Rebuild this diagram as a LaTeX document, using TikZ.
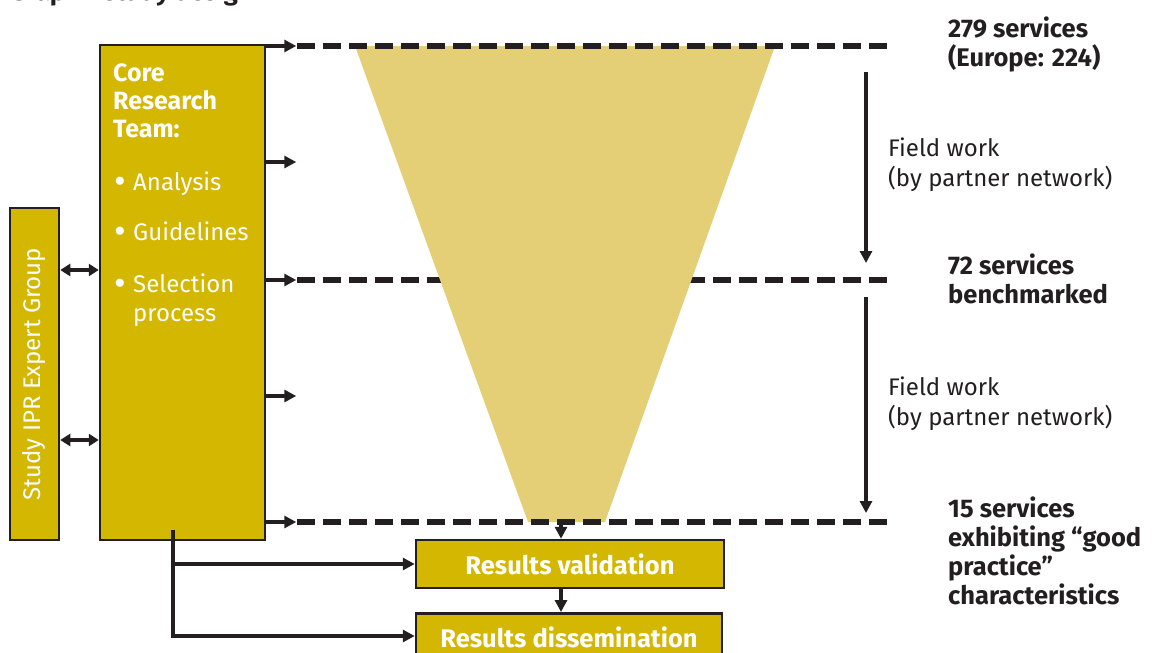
\documentclass[tikz,border=0pt]{standalone}
\usepackage{fontspec}
\setmainfont{Fira Sans}
\usetikzlibrary{arrows.meta}
\definecolor{mustard}{RGB}{212,183,0}
\definecolor{funnelc}{RGB}{229,207,118}
\definecolor{ink}{RGB}{35,31,32}
\tikzset{
  x=1pt, y=-1pt,
  box/.style={draw=ink, line width=2.5pt, fill=mustard, inner sep=0pt},
  arr/.style={draw=ink, line width=4.5pt, -{Triangle[length=12pt,width=12pt]}},
  dbl/.style={draw=ink, line width=4.5pt, {Triangle[length=10pt,width=12pt]}-{Triangle[length=10pt,width=12pt]}},
  level/.style={draw=ink, line width=6pt, dash pattern=on 18pt off 8pt},
  lbl/.style={anchor=base west, inner sep=0pt, align=left, text=ink,
    font=\fontsize{24}{29.5}\selectfont},
  blbl/.style={lbl, font=\fontsize{25.5}{29}\selectfont\bfseries},
  wtxt/.style={anchor=base west, inner sep=0pt, text=white,
    font=\fontsize{24}{29}\selectfont},
  wbold/.style={wtxt, align=left, font=\fontsize{25}{28}\selectfont\bfseries},
}
\newcommand{\bigbullet}{\raisebox{-3pt}{\scalebox{1.5}{•}}}
\begin{document}
\begin{tikzpicture}
\useasboundingbox (0,0) rectangle (1160,653);

% heading, running above the top edge
\node[blbl] (title) at (10,1) {Graph 1 study design};

% the three levels of the selection funnel
\coordinate (l1w) at (297,46);  \coordinate (l1e) at (888,46);
\coordinate (l2w) at (297,280); \coordinate (l2e) at (888,280);
\coordinate (l3w) at (297,522); \coordinate (l3e) at (888,522);
\draw[level] (l2w) -- (l2e);

% funnel
\coordinate (ftl) at (355,46);  \coordinate (ftr) at (775,46);
\coordinate (fbr) at (605,522); \coordinate (fbl) at (528,522);
\coordinate (fbot) at (561,522);
\fill[funnelc] (ftl) -- (ftr) -- (fbr) -- (fbl) -- cycle;

\draw[level] (l1w) -- (l1e);
\draw[level] (l3w) -- (l3e);

% core research team (multi-line nodes sit on their last baseline)
\node[box, minimum width=165pt, minimum height=495pt] (core) at (182.5,292.5) {};
\node[wbold] (coret) at (113,137) {Core\\Research\\Team:};
\node[wtxt] (b1) at (114,190) {\bigbullet};
\node[wtxt] (t1) at (133,190) {Analysis};
\node[wtxt] (b2) at (114,240) {\bigbullet};
\node[wtxt] (t2) at (133,240) {Guidelines};
\node[wtxt] (b3) at (114,292) {\bigbullet};
\node[wtxt] (t3) at (133,292) {Selection};
\node[wtxt] (t4) at (133,321) {process};

% expert group
\node[box, rotate=90, minimum width=332pt, minimum height=49pt, text=white,
      font=\fontsize{24}{29}\selectfont] (expert) at (34.5,374) {Study IPR Expert Group};

\draw[dbl] (expert.south |- 0,270) -- (core.west |- 0,270);
\draw[dbl] (expert.south |- 0,440) -- (core.west |- 0,440);

% outputs of the core team
\foreach \yy in {46,162,280,396,522}
  \draw[arr] (core.east |- 0,\yy) -- ++(30,0);

% field work spans
\coordinate (fa1) at (866,72);  \coordinate (fa2) at (866,263);
\coordinate (fb1) at (866,297); \coordinate (fb2) at (866,513);
\draw[arr] (fa1) -- (fa2);
\draw[arr] (fb1) -- (fb2);

% labels on the right
\node[blbl] (n279) at (948,66) {279 services\\(Europe: 224)};
\node[lbl] (fw1) at (888,186) {Field work\\(by partner network)};
\node[blbl] (n72) at (948,303) {72 services\\benchmarked};
\node[lbl] (fw2) at (888,425) {Field work\\(by partner network)};
\node[blbl] (n15) at (948,604) {15 services\\exhibiting “good\\practice”\\characteristics};

% results
\node[box, minimum width=308pt, minimum height=48pt, text=white,
      font=\fontsize{25.5}{29}\selectfont\bfseries] (valid) at (570,564) {Results validation};
\node[box, minimum width=306pt, minimum height=48pt, text=white,
      font=\fontsize{25.5}{29}\selectfont\bfseries, anchor=north] (dissem) at (569,612) {\raisebox{-6pt}{Results dissemination}};

\draw[arr] (fbot) -- (valid.north -| fbot);
\draw[arr] (valid.south -| fbot) -- (dissem.north -| fbot);

\coordinate (tap) at (173,530);
\draw[draw=ink, line width=4.5pt] (tap) -- (173,638);
\draw[arr] (171,564) -- (valid.west);
\draw[arr] (171,636) -- (dissem.west |- 0,636);
\end{tikzpicture}
\end{document}
